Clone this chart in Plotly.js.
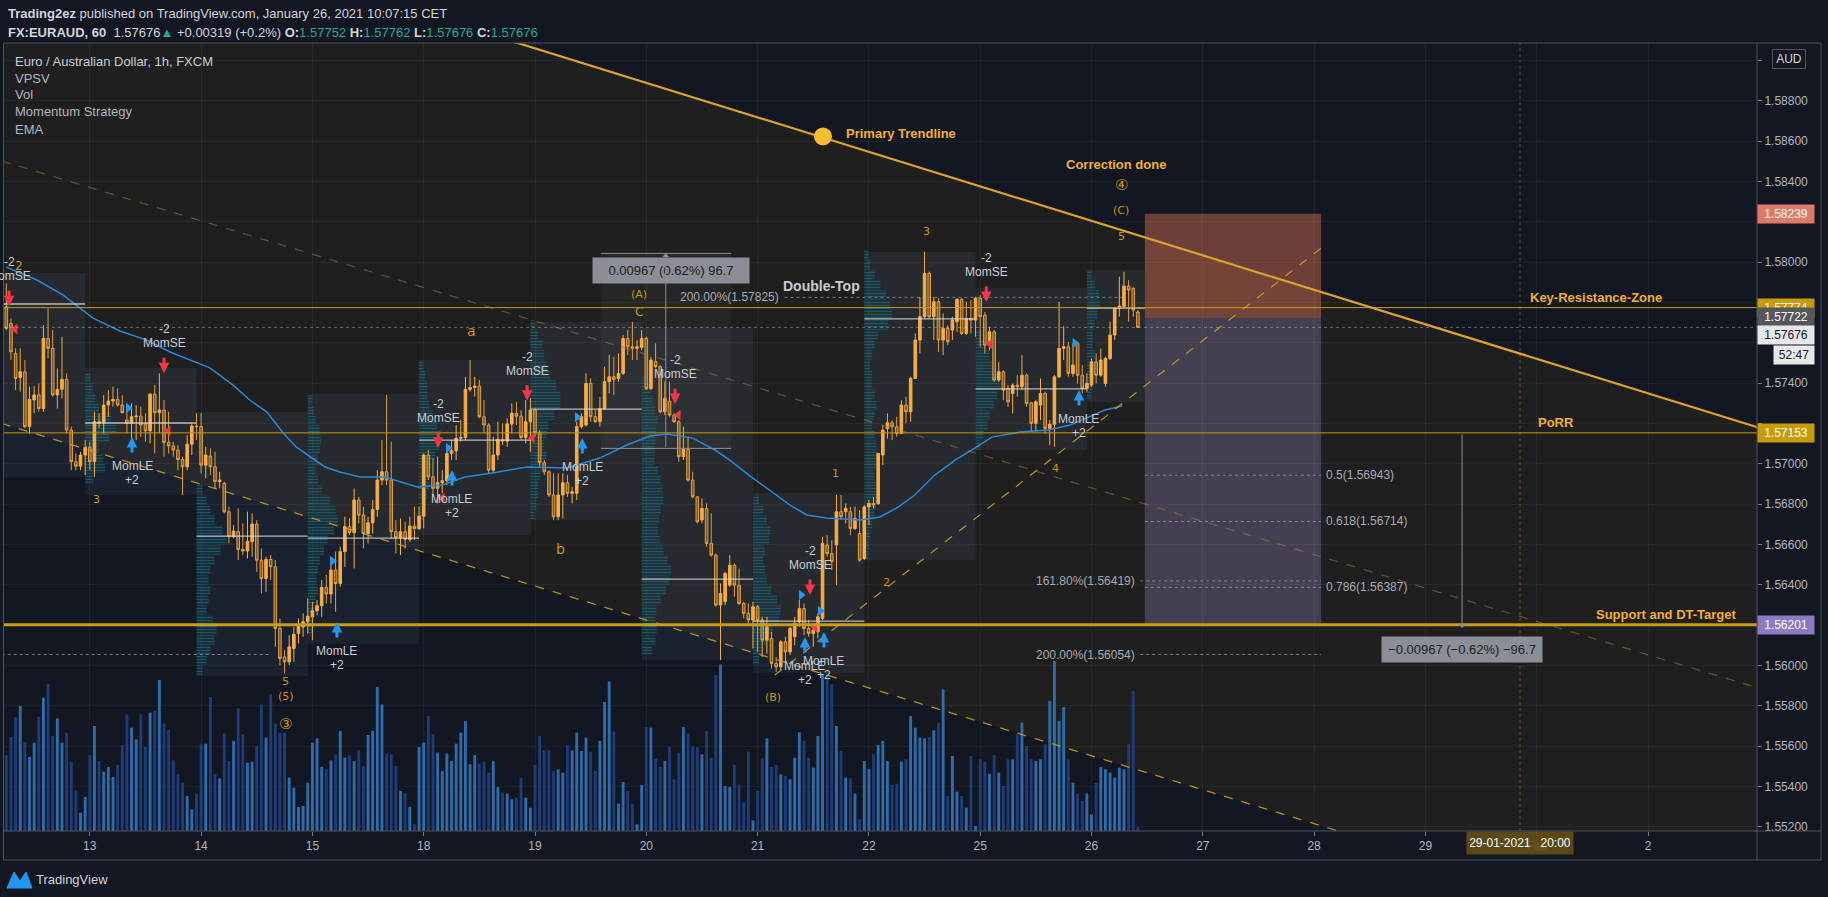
<!DOCTYPE html>
<html><head><meta charset="utf-8">
<script src="https://cdn.plot.ly/plotly-3.0.1.min.js"></script>
<style>html,body{margin:0;padding:0;background:#131722;overflow:hidden}#chart{width:1828px;height:897px}</style>
</head><body><div id="chart"></div>
<script>
// ---------------- DATA (EUR/AUD 1h, FXCM) ----------------
const firstHour = -18; // hours relative to Jan 13 00:00 (trading-day axis)
const openP = [
1.57778,1.57695,1.57547,1.57428,1.57456,1.57184,1.57316,1.57341,1.57274,1.57621,
1.57572,1.57341,1.57369,1.57418,1.57167,1.57010,1.56988,1.57043,1.57081,1.57010,
1.57209,1.57203,1.57291,1.57311,1.57319,1.57291,1.57217,1.57200,1.57233,1.57236,
1.57197,1.57163,1.57345,1.57253,1.57266,1.57106,1.57088,1.57068,1.57021,1.56985,
1.57097,1.57187,1.57184,1.56993,1.57038,1.56985,1.56911,1.56902,1.56762,1.56638,
1.56663,1.56575,1.56567,1.56613,1.56701,1.56522,1.56431,1.56525,1.56489,1.56183,
1.56042,1.56018,1.56084,1.56158,1.56191,1.56216,1.56241,1.56271,1.56296,1.56387,
1.56354,1.56473,1.56406,1.56564,1.56688,1.56658,1.56820,1.56745,1.56654,1.56707,
1.56773,1.56919,1.56960,1.56919,1.56663,1.56633,1.56663,1.56625,1.56691,1.56679,
1.56740,1.57043,1.56935,1.56878,1.56906,1.56916,1.57051,1.57064,1.57126,1.57130,
1.57369,1.57378,1.57385,1.57233,1.57192,1.56968,1.57043,1.57121,1.57112,1.57197,
1.57250,1.57236,1.57130,1.57208,1.57266,1.57154,1.57005,1.56960,1.56845,1.56737,
1.56845,1.56906,1.56853,
1.56853,1.57184,1.57192,1.57398,1.57233,1.57208,1.57274,1.57407,1.57431,1.57423,
1.57448,1.57621,1.57580,1.57572,1.57577,1.57621,1.57373,1.57506,1.57481,1.57258,
1.57311,1.57241,1.57208,1.57035,1.57071,1.56919,1.56836,1.56721,1.56778,1.56605,
1.56547,1.56299,1.56316,1.56398,1.56497,1.56398,1.56307,1.56258,1.56225,1.56291,
1.56225,1.56125,1.56134,1.56010,1.55993,1.56117,1.56067,1.56142,1.56216,1.56282,
1.56183,1.56158,1.56167,1.56233,1.56597,1.56555,1.56597,1.56762,1.56762,1.56762,
1.56679,
1.56654,1.56530,1.56786,1.56803,1.56803,1.57043,1.57175,1.57203,1.57183,1.57150,
1.57291,1.57258,1.57423,1.57613,1.57729,1.57944,1.57729,1.57803,1.57613,1.57671,
1.57663,1.57704,1.57815,1.57646,1.57720,1.57712,1.57820,1.57737,1.57588,1.57654,
1.57415,1.57456,1.57373,1.57348,1.57390,1.57382,1.57439,1.57302,1.57200,1.57291,
1.57348,1.57175,1.57196,1.57431,1.57572,1.57580,1.57448,1.57596,1.57439,1.57373,
1.57390,1.57505,1.57439,1.57398,1.57522,1.57638,1.57770,1.57778,1.57881,1.57869,
1.57752];
const highP = [
1.57894,1.57720,1.57572,1.57572,1.57514,1.57382,1.57385,1.57398,1.57687,1.57770,
1.57663,1.57473,1.57630,1.57448,1.57184,1.57051,1.57059,1.57117,1.57109,1.57258,
1.57250,1.57341,1.57365,1.57382,1.57373,1.57341,1.57299,1.57299,1.57291,1.57283,
1.57250,1.57349,1.57390,1.57448,1.57316,1.57258,1.57109,1.57092,1.57035,1.57142,
1.57200,1.57250,1.57250,1.57084,1.57076,1.57059,1.56960,1.56911,1.56787,1.56696,
1.56779,1.56704,1.56762,1.56754,1.56720,1.56580,1.56539,1.56547,1.56522,1.56233,
1.56076,1.56150,1.56191,1.56233,1.56258,1.56332,1.56315,1.56324,1.56423,1.56448,
1.56522,1.56564,1.56588,1.56737,1.56729,1.56878,1.56836,1.56787,1.56737,1.56820,
1.56968,1.57117,1.57341,1.57109,1.56720,1.56729,1.56712,1.56737,1.56787,1.56787,
1.57051,1.57068,1.57026,1.57035,1.56968,1.57068,1.57117,1.57192,1.57217,1.57431,
1.57514,1.57431,1.57415,1.57316,1.57200,1.57134,1.57208,1.57200,1.57225,1.57299,
1.57307,1.57266,1.57316,1.57324,1.57274,1.57167,1.57018,1.56968,1.56952,1.56952,
1.56952,1.56944,1.56886,
1.57208,1.57250,1.57448,1.57423,1.57266,1.57332,1.57481,1.57539,1.57530,1.57547,
1.57638,1.57663,1.57704,1.57613,1.57663,1.57630,1.57530,1.57597,1.57489,1.57407,
1.57407,1.57250,1.57217,1.57184,1.57134,1.56960,1.56836,1.56828,1.56803,1.56754,
1.56555,1.56406,1.56464,1.56547,1.56506,1.56481,1.56316,1.56307,1.56316,1.56299,
1.56241,1.56241,1.56167,1.56042,1.56125,1.56142,1.56191,1.56241,1.56324,1.56307,
1.56225,1.56208,1.56258,1.56638,1.56646,1.56621,1.56845,1.56845,1.56803,1.56787,
1.56787,
1.56770,1.56795,1.56820,1.56836,1.57051,1.57191,1.57249,1.57216,1.57233,1.57315,
1.57332,1.57431,1.57646,1.57828,1.58051,1.57952,1.57828,1.57820,1.57745,1.57687,
1.57729,1.57820,1.57820,1.57803,1.57811,1.57828,1.57836,1.57753,1.57679,1.57663,
1.57505,1.57464,1.57390,1.57398,1.57439,1.57539,1.57448,1.57307,1.57315,1.57423,
1.57357,1.57216,1.57439,1.57803,1.57682,1.57605,1.57596,1.57605,1.57489,1.57448,
1.57522,1.57547,1.57572,1.57530,1.57704,1.57778,1.57927,1.57952,1.57910,1.57877,
1.57762];
const lowP = [
1.57662,1.57514,1.57365,1.57357,1.57176,1.57150,1.57250,1.57258,1.57258,1.57522,
1.57332,1.57274,1.57324,1.57150,1.56968,1.56968,1.56968,1.56944,1.56968,1.56935,
1.57176,1.57150,1.57233,1.57283,1.57283,1.57250,1.57150,1.57117,1.57117,1.57134,
1.57109,1.57101,1.57051,1.57150,1.57035,1.57051,1.57035,1.56968,1.56845,1.56968,
1.57043,1.57117,1.56952,1.56927,1.56944,1.56878,1.56878,1.56754,1.56605,1.56630,
1.56522,1.56547,1.56530,1.56539,1.56464,1.56357,1.56365,1.56423,1.56092,1.56001,
1.55960,1.56001,1.56018,1.56109,1.56142,1.56158,1.56125,1.56249,1.56241,1.56307,
1.56307,1.56266,1.56390,1.56489,1.56646,1.56481,1.56704,1.56580,1.56605,1.56654,
1.56737,1.56894,1.56894,1.56630,1.56555,1.56547,1.56580,1.56613,1.56621,1.56671,
1.56679,1.56919,1.56836,1.56803,1.56853,1.56894,1.57018,1.57018,1.57109,1.57117,
1.57357,1.57332,1.57225,1.57150,1.56952,1.56952,1.57018,1.57092,1.57084,1.57150,
1.57192,1.57117,1.57101,1.57059,1.57134,1.56985,1.56944,1.56836,1.56720,1.56720,
1.56729,1.56836,1.56803,
1.56820,1.57176,1.57184,1.57208,1.57203,1.57184,1.57266,1.57349,1.57341,1.57407,
1.57440,1.57539,1.57514,1.57514,1.57564,1.57365,1.57365,1.57473,1.57250,1.57241,
1.57233,1.57203,1.57010,1.57018,1.56911,1.56828,1.56704,1.56704,1.56588,1.56539,
1.56291,1.56026,1.56299,1.56390,1.56340,1.56299,1.56233,1.56208,1.56084,1.56067,
1.56042,1.56059,1.55985,1.55968,1.55977,1.56018,1.56051,1.56100,1.56191,1.56150,
1.56142,1.56092,1.56134,1.56225,1.56539,1.56473,1.56398,1.56721,1.56704,1.56646,
1.56671,
1.56514,1.56522,1.56696,1.56778,1.56795,1.56993,1.57125,1.57117,1.57134,1.57150,
1.57200,1.57208,1.57423,1.57547,1.57720,1.57720,1.57613,1.57555,1.57539,1.57588,
1.57613,1.57654,1.57638,1.57638,1.57646,1.57630,1.57580,1.57547,1.57563,1.57406,
1.57406,1.57315,1.57282,1.57249,1.57332,1.57365,1.57282,1.57158,1.57158,1.57216,
1.57150,1.57092,1.57084,1.57423,1.57514,1.57431,1.57431,1.57398,1.57348,1.57357,
1.57382,1.57398,1.57431,1.57382,1.57514,1.57613,1.57729,1.57770,1.57704,1.57729,
1.57676];
const closeP = [
1.57671,1.57555,1.57423,1.57456,1.57184,1.57319,1.57341,1.57274,1.57621,1.57572,
1.57341,1.57369,1.57418,1.57167,1.57010,1.56988,1.57043,1.57081,1.57010,1.57209,
1.57200,1.57291,1.57311,1.57319,1.57291,1.57253,1.57200,1.57233,1.57236,1.57192,
1.57163,1.57345,1.57253,1.57266,1.57106,1.57088,1.57068,1.57021,1.56985,1.57097,
1.57187,1.57184,1.56993,1.57043,1.56985,1.56911,1.56919,1.56762,1.56638,1.56666,
1.56575,1.56567,1.56616,1.56701,1.56522,1.56431,1.56525,1.56489,1.56183,1.56034,
1.56018,1.56092,1.56154,1.56200,1.56216,1.56244,1.56271,1.56296,1.56387,1.56354,
1.56473,1.56406,1.56564,1.56688,1.56658,1.56820,1.56745,1.56654,1.56707,1.56773,
1.56919,1.56960,1.56919,1.56663,1.56633,1.56663,1.56625,1.56691,1.56679,1.56740,
1.57043,1.56935,1.56878,1.56906,1.56916,1.57051,1.57064,1.57126,1.57130,1.57369,
1.57378,1.57385,1.57233,1.57192,1.56968,1.57043,1.57121,1.57112,1.57197,1.57250,
1.57236,1.57130,1.57208,1.57266,1.57154,1.57005,1.56960,1.56845,1.56737,1.56845,
1.56906,1.56853,1.56861,
1.57184,1.57233,1.57398,1.57233,1.57208,1.57274,1.57407,1.57431,1.57418,1.57448,
1.57621,1.57580,1.57572,1.57580,1.57621,1.57373,1.57514,1.57481,1.57258,1.57324,
1.57241,1.57208,1.57035,1.57071,1.56919,1.56836,1.56712,1.56778,1.56605,1.56547,
1.56299,1.56357,1.56456,1.56497,1.56398,1.56307,1.56258,1.56225,1.56291,1.56225,
1.56125,1.56191,1.56010,1.55993,1.56117,1.56067,1.56183,1.56208,1.56282,1.56183,
1.56158,1.56175,1.56241,1.56605,1.56555,1.56514,1.56762,1.56737,1.56778,1.56679,
1.56729,
1.56522,1.56786,1.56803,1.56795,1.57051,1.57167,1.57203,1.57183,1.57150,1.57291,
1.57258,1.57423,1.57613,1.57729,1.57944,1.57729,1.57803,1.57613,1.57671,1.57605,
1.57712,1.57815,1.57646,1.57720,1.57712,1.57820,1.57729,1.57588,1.57654,1.57415,
1.57456,1.57365,1.57307,1.57390,1.57382,1.57439,1.57299,1.57200,1.57307,1.57348,
1.57175,1.57196,1.57431,1.57572,1.57580,1.57448,1.57489,1.57439,1.57373,1.57398,
1.57505,1.57439,1.57514,1.57522,1.57638,1.57770,1.57782,1.57881,1.57861,1.57762,
1.57676];
const volume = [
227,282,342,375,267,222,265,342,400,
442,285,338,265,295,207,122,55,102,228,
315,210,178,192,162,198,258,350,310,275,
350,252,355,360,453,322,303,212,170,145,
105,65,112,260,262,402,172,158,292,210,
270,368,290,205,208,255,380,280,410,322,
295,295,160,130,72,75,145,265,278,192,
185,212,230,300,220,227,210,242,195,288,
300,432,380,232,230,195,120,115,72,20,
252,265,345,290,235,180,232,210,262,295,
330,200,228,202,208,175,210,132,115,112,
95,100,160,100,70,198,285,242,242,180,
185,175,258,242,295,240,280,238,180,270,
387,448,298,82,147,120,82,20,138,312,
310,217,192,210,252,155,235,312,292,252,
252,230,300,220,468,500,135,132,198,140,
86,238,32,120,218,278,192,198,170,165,
155,220,296,270,220,190,285,470,475,440,
315,240,160,158,112,35,210,185,230,258,
270,210,138,142,208,215,345,310,280,278,
282,302,325,425,105,225,118,105,70,225,
15,215,208,172,228,175,135,215,215,290,
325,255,215,210,215,260,390,510,330,372,
215,145,112,90,112,50,144,192,185,175,
160,190,185,262,420,12];

// EMA
const emaHours = [-18,-11.4,-5.8,0.7,6.5,12.3,17.3,21.6,25.9,30.9,34.5,38.2,41.7,44.5,47.5,50.7,53.9,58.3,63.6,70.8,75.9,80.9,86.7,94.3,102.9,110,115.8,120.8,124.5,130,134.8,138,142.4,147.3,151,154.6,158.9,166.1,170.4,174.3,177.9,182.2,186.6,190.9,194.5,200.6,206.6,211.4,215.3,218.9,222.6];
const emaPrices = [1.57975,1.57911,1.57837,1.57722,1.57658,1.57613,1.57554,1.57514,1.57475,1.57390,1.57316,1.57256,1.57152,1.57083,1.57033,1.56984,1.56959,1.56934,1.56934,1.56884,1.56894,1.56934,1.56954,1.56984,1.56979,1.57028,1.57093,1.57137,1.57147,1.57127,1.57068,1.57018,1.56939,1.56855,1.56795,1.56746,1.56731,1.56721,1.56736,1.56785,1.56845,1.56944,1.57018,1.57078,1.57132,1.57157,1.57167,1.57192,1.57232,1.57266,1.57286];

// axis ticks
const dayTickHours = [0,24,48,72,96,120,144,168,192,216,240,264,288,312,336];
const dayTickLabels = ['13','14','15','18','19','20','21','22','25','26','27','28','29','Feb','2'];
const priceTicks = [1.552,1.554,1.556,1.558,1.560,1.562,1.564,1.566,1.568,1.570,1.572,1.574,1.576,1.578,1.580,1.582,1.584,1.586,1.588,1.590];
const hiddenTicks = [1.562,1.572,1.576,1.578,1.582,1.590]; // covered by the coloured price tags

// key levels
const keyResistance = 1.57774, porrLevel = 1.57153, supportLevel = 1.56201;
const stopLevel = 1.58239, entryLevel = 1.57722, lastPrice = 1.57676;

// session volume-profile boxes (day start/end hour, top, bottom, POC)
const sessStart = [-19,-1,23,47,71,95,119,143,167,191,215];
const sessEnd   = [-1,23,47,71,95,119,143,167,191,215,227.5];
const sessTop   = [1.57946,1.57475,1.57256,1.57346,1.57514,1.57703,1.57673,1.56855,1.58050,1.57871,1.57960];
const sessBot   = [1.56934,1.56845,1.55947,1.56106,1.56647,1.56721,1.56027,1.55962,1.56522,1.57068,1.57306];
const sessPoc   = [1.57792,1.57202,1.56641,1.56631,1.57117,1.57271,1.56428,1.56220,1.57718,1.57371,1.57772];

// session volume profiles (first row price, row step, row lengths in hours)
const profStep = 0.000496;
const profTop = [1.57425,1.56870,1.57316,1.57489,1.57688,1.57415,1.56820,1.58035,1.57638,1.57936];
const profRows = [
 [1.1,1.7,2.2,3.0,5.6,6.7,5.2,3.0,3.9,4.3,1.7],
 [1.3,2.2,3.0,3.9,5.6,6.5,5.2,3.9,3.0,2.6,3.0,2.6,2.2,3.5,4.3,3.9,3.0,2.2,1.3],
 [0.9,1.3,1.7,2.6,2.8,2.6,2.2,1.7,2.2,3.0,4.7,6.0,6.5,5.6,4.3,3.5,2.6,2.2,1.9,2.2,1.7,1.5,1.3,0.9],
 [0.9,1.3,1.7,1.7,2.2,3.0,3.9,4.7,4.3,3.5,2.6,2.2,2.2,1.7,1.3,0.9],
 [0.9,1.7,2.6,3.0,3.5,4.3,5.6,6.5,6.5,5.2,3.9,3.5,3.0,3.5,2.6,2.2,1.7,1.7,1.3,0.9],
 [1.3,1.9,2.4,3.0,3.5,3.2,3.0,2.8,2.8,3.5,4.1,4.5,4.7,4.1,3.7,3.5,3.9,4.7,5.6,6.3,6.0,5.2,4.1,3.2,3.0,3.2,3.0,2.2],
 [1.3,2.2,3.0,3.7,3.5,2.6,2.2,2.6,3.0,3.9,5.2,6.0,5.6,4.3,3.0,2.2,1.3],
 [0.9,1.3,2.2,3.5,4.7,5.6,6.0,5.2,3.0,2.2,1.7,1.3,1.7,1.7,2.2,2.6,2.2,1.7,2.2,2.6,3.0,2.6,2.2,2.6,3.0,2.6,2.2,1.7,1.3,1.1,0.9],
 [1.3,2.2,3.0,3.9,4.7,5.2,4.7,3.9,3.0,2.6,1.7,0.9],
 [0.9,1.7,2.6,2.8,2.2,1.7,1.3,1.3,1.7,2.2,1.7,1.3,0.9]
];

// drawings
const polyH = [-19, 360], polyTopP = [1.59879, 1.57178], polyBotP = [1.57200, 1.54542];
const upperChH = [-19, 360], upperChP = [1.58501, 1.55887];
const lowerChH = [-19, 280], lowerChP = [1.57200, 1.55103];
const risingH = [147.7, 265.9], risingP = [1.55952, 1.58076];
const positionH = [227.5, 265.5];
const measureH = [110.2, 138.3, 124.2], measureP = [1.57076, 1.58043];

// strategy signals
const seHours = [-17.4,16,75.1,94.3,126.2,155.3,193.3];
const sePrices = [1.57781,1.57449,1.57078,1.57312,1.57296,1.56349,1.57802];
const leHours = [9.1,53.3,78.1,106.2,154.2,158.3,213.3];
const lePrices = [1.57132,1.56215,1.56969,1.57127,1.56141,1.56166,1.57365];
const exitShortH = [-16.1,16.9,76,95.4,126.9,156.4,194.1];
const exitShortP = [1.57668,1.57162,1.5683,1.57127,1.57241,1.5619,1.57593];
const exitLongH = [8.3,52.3,77.3,105.1,153.4,157.5,212.4];
const exitLongP = [1.57276,1.56518,1.57078,1.57231,1.56349,1.5627,1.57598];

// wave labels
const waveText = ['2','3','a','b','(A)','C','1','2','3','4','5','(C)','④','5','(5)','③','(B)'];
const waveH = [-15.3,1.4,82.2,101.4,118.4,118.4,160.7,171.7,180.5,208.3,222.4,222.4,222.4,42.3,42.3,42.3,147.3];
const waveP = [1.5798,1.56825,1.57658,1.56577,1.57837,1.57752,1.56954,1.56413,1.58149,1.56974,1.58129,1.58258,1.58382,1.55918,1.55848,1.55709,1.55843];
const waveSize = [12,11,14,14,11,12,11,11,11,11,11,11,15,11,11,15,11];

// ---------------- CHART ----------------
const F = 'Liberation Sans, Arial, sans-serif';
const GOLD = '#c99a0c', GOLDTXT = '#f0b02a', WAVE = '#c8950f';
const PX = px => (px - 4) / 1753;
const PY = py => (831 - py) / 788;
const hours = closeP.map((_, i) => firstHour + i);
const volColors = closeP.map((c, i) => c >= openP[i] ? '#2f6cab' : '#1d3c78');

const profY = [], profX = [], profBase = [];
profRows.forEach((rows, s) => rows.forEach((w, r) => {
  profY.push(profTop[s] - r * profStep); profX.push(w); profBase.push(sessStart[s + 1]);
}));

const traces = [
  {type:'bar', x:hours, y:volume, yaxis:'y2', width:0.62, marker:{color:volColors, line:{width:0}}, hoverinfo:'skip'},
  {type:'bar', orientation:'h', x:profX, y:profY, base:profBase, width:profStep * 0.92,
   marker:{color:'rgba(0,0,0,0)', line:{width:0}, pattern:{shape:'-', fgcolor:'rgba(20,105,120,0.75)', bgcolor:'rgba(0,0,0,0)', size:3, solidity:0.5}}, hoverinfo:'skip'},
  {type:'candlestick', x:hours, open:openP, high:highP, low:lowP, close:closeP,
   increasing:{line:{color:'#f7ad45', width:1}, fillcolor:'#f7ad45'},
   decreasing:{line:{color:'#e59f39', width:1}, fillcolor:'rgba(190,130,45,0.55)'},
   hoverinfo:'skip'},
  {type:'scatter', mode:'lines', x:emaHours, y:emaPrices, line:{color:'#2a88d4', width:1.5}, hoverinfo:'skip'},
  {type:'scatter', mode:'markers', x:exitShortH, y:exitShortP, marker:{symbol:'triangle-left', size:9, color:'#f23645'}, hoverinfo:'skip'},
  {type:'scatter', mode:'markers', x:exitLongH, y:exitLongP, marker:{symbol:'triangle-right', size:9, color:'#2196f3'}, hoverinfo:'skip'}
];

const shapes = [];
shapes.push({type:'path', xref:'x', yref:'y', layer:'below', line:{width:0}, fillcolor:'#1f1f20',
  path:`M ${polyH[0]},${polyTopP[0]} L ${polyH[1]},${polyTopP[1]} L ${polyH[1]},${polyBotP[1]} L ${polyH[0]},${polyBotP[0]} Z`});
sessStart.forEach((s, i) => {
  shapes.push({type:'rect', xref:'x', yref:'y', layer:'below', x0:s, x1:sessEnd[i], y0:sessBot[i], y1:sessTop[i], line:{width:0}, fillcolor:'rgba(90,115,150,0.12)'});
  shapes.push({type:'line', xref:'x', yref:'y', layer:'above', x0:s, x1:sessEnd[i], y0:sessPoc[i], y1:sessPoc[i], line:{color:'rgba(220,220,225,0.8)', width:1.3}});
});
shapes.push({type:'rect', xref:'x', yref:'y', layer:'below', x0:positionH[0], x1:positionH[1], y0:entryLevel, y1:stopLevel, line:{width:0}, fillcolor:'rgba(235,120,90,0.42)'});
shapes.push({type:'rect', xref:'x', yref:'y', layer:'below', x0:positionH[0], x1:positionH[1], y0:supportLevel, y1:entryLevel, line:{width:0}, fillcolor:'rgba(150,130,185,0.33)'});
shapes.push({type:'rect', xref:'x', yref:'y', layer:'below', x0:measureH[0], x1:measureH[1], y0:measureP[0], y1:measureP[1], line:{width:0}, fillcolor:'rgba(255,255,255,0.035)'});
[measureP[0], measureP[1]].forEach(p => shapes.push({type:'line', xref:'x', yref:'y', x0:measureH[0], x1:measureH[1], y0:p, y1:p, line:{color:'#8a8d95', width:1}}));
shapes.push({type:'line', xref:'paper', yref:'y', x0:0, x1:1, y0:lastPrice, y1:lastPrice, line:{color:'rgba(200,200,210,0.45)', width:1, dash:'dot'}});
shapes.push({type:'line', xref:'paper', yref:'y', x0:0, x1:1, y0:keyResistance, y1:keyResistance, line:{color:GOLD, width:1}});
shapes.push({type:'line', xref:'paper', yref:'y', x0:0, x1:1, y0:porrLevel, y1:porrLevel, line:{color:GOLD, width:1}});
shapes.push({type:'line', xref:'paper', yref:'y', x0:0, x1:1, y0:supportLevel, y1:supportLevel, line:{color:'#c99d10', width:3}});
const fibLines = [[149.8,222.6,1.57825],[226.5,265.5,1.56419],[226.5,265.5,1.56054],[-19,39.3,1.56054],[227.5,265.5,1.56943],[227.5,265.5,1.56714],[227.5,265.5,1.56387]];
fibLines.forEach(f => shapes.push({type:'line', xref:'x', yref:'y', x0:f[0], x1:f[1], y0:f[2], y1:f[2], line:{color:'rgba(175,178,188,0.6)', width:1, dash:'dot'}}));
shapes.push({type:'line', xref:'x', yref:'y', x0:upperChH[0], x1:upperChH[1], y0:upperChP[0], y1:upperChP[1], line:{color:'rgba(170,135,50,0.5)', width:1.2, dash:'dash'}});
shapes.push({type:'line', xref:'x', yref:'y', x0:lowerChH[0], x1:lowerChH[1], y0:lowerChP[0], y1:lowerChP[1], line:{color:'rgba(205,160,40,0.85)', width:1.3, dash:'dash'}});
shapes.push({type:'line', xref:'x', yref:'y', x0:risingH[0], x1:risingH[1], y0:risingP[0], y1:risingP[1], line:{color:'rgba(210,165,45,0.85)', width:1.2, dash:'dash'}});
shapes.push({type:'line', xref:'x', yref:'y', x0:polyH[0], x1:polyH[1], y0:polyTopP[0], y1:polyTopP[1], line:{color:'#dca327', width:2.2}});
shapes.push({type:'circle', xref:'x', yref:'y', xsizemode:'pixel', ysizemode:'pixel', xanchor:158.1, yanchor:1.58623, x0:-9, x1:9, y0:-9, y1:9, fillcolor:'#f6bd2f', line:{width:0}});
shapes.push({type:'line', xref:'x', yref:'paper', x0:308.4, x1:308.4, y0:0, y1:1, line:{color:'rgba(200,150,30,0.45)', width:1, dash:'dot'}});
shapes.push({type:'rect', xref:'paper', yref:'paper', x0:PX(3.5), x1:PX(1821), y0:PY(860), y1:PY(43), line:{color:'#4e525c', width:1}});
shapes.push({type:'line', xref:'paper', yref:'paper', x0:PX(3.5), x1:PX(1821), y0:0, y1:0, line:{color:'#4e525c', width:1}});
shapes.push({type:'line', xref:'paper', yref:'paper', x0:1, x1:1, y0:PY(860), y1:PY(43), line:{color:'#4e525c', width:1}});
const logo = [[7,888],[14,872],[20,881],[26,872],[32,888]].map(p => `${PX(p[0])},${PY(p[1])}`);
shapes.push({type:'path', xref:'paper', yref:'paper', path:`M ${logo[0]} L ${logo[1]} L ${logo[2]} L ${logo[3]} L ${logo[4]} Z`, fillcolor:'#2196f3', line:{color:'#2196f3', width:1}});

const ann = [];
const txt = (x, y, text, o={}) => Object.assign({x, y, text, showarrow:false, xref:'paper', yref:'paper', xanchor:'left', yanchor:'middle', font:{family:F, size:13, color:'#d1d4dc'}}, o);
ann.push(txt(PX(6), PY(14), '<b>Trading2ez</b> published on TradingView.com, January 26, 2021 10:07:15 CET'));
const tc = s => `<span style="color:#22ab94">${s}</span>`;
ann.push(txt(PX(6), PY(32), `<b>FX:EURAUD, 60</b>  1.57676${tc('▲')} +0.00319 (+0.2%) <b>O:</b>${tc('1.57752')} <b>H:</b>${tc('1.57762')} <b>L:</b>${tc('1.57676')} <b>C:</b>${tc('1.57676')}`));
['Euro / Australian Dollar, 1h, FXCM','VPSV','Vol','Momentum Strategy','EMA'].forEach((s, i) =>
  ann.push(txt(PX(13), PY(61 + i * 17), s, {font:{family:F, size:13, color: i === 0 ? '#c8cbd3' : '#b2b5be'}})));
ann.push(txt(PX(34), PY(879), 'TradingView', {font:{family:F, size:13, color:'#d1d4dc'}}));
const axLab = (y, text, bg, fg, extra={}) => Object.assign({xref:'paper', yref:'y', x:1, y, xanchor:'left', yanchor:'middle', text, showarrow:false, bgcolor:bg, width:52, height:14, borderpad:2, align:'center', font:{family:F, size:12, color:fg}}, extra);
ann.push(axLab(stopLevel, stopLevel.toFixed(5), '#e07a68', '#ffffff'));
ann.push(axLab(keyResistance, keyResistance.toFixed(5), GOLD, '#ffffff'));
ann.push(axLab(entryLevel, entryLevel.toFixed(5), '#55575d', '#ffffff', {yshift:1}));
ann.push(axLab(lastPrice, lastPrice.toFixed(5), '#e8e8ea', '#131722', {yshift:-8}));
ann.push(axLab(lastPrice, '52:47', '#e8e8ea', '#131722', {yshift:-28, xshift:16, width:36}));
ann.push(axLab(porrLevel, porrLevel.toFixed(5), GOLD, '#ffffff'));
ann.push(axLab(supportLevel, supportLevel.toFixed(5), '#8c7bc4', '#ffffff'));
ann.push(txt(PX(1789), PY(59.5), 'AUD', {xanchor:'center', bgcolor:'#131722', bordercolor:'#4e525c', borderwidth:1, borderpad:2, width:28, font:{family:F, size:12, color:'#d1d4dc'}}));
ann.push(txt(PX(1520), PY(843), '29-01-2021   20:00', {xanchor:'center', bgcolor:'rgba(100,80,22,0.9)', width:100, height:16, borderpad:3, font:{family:F, size:12, color:'#ffffff'}}));
const lv = (h, p, s) => ({xref:'x', yref:'y', x:h, y:p, text:'<b>'+s+'</b>', showarrow:false, yanchor:'bottom', yshift:1, font:{family:F, size:13, color:GOLDTXT}});
ann.push(lv(324.8, keyResistance, 'Key-Resistance-Zone'));
ann.push(lv(316.2, porrLevel, 'PoRR'));
ann.push(lv(339.9, supportLevel, 'Support and DT-Target'));
ann.push({xref:'x', yref:'y', x:162.6, y:1.58635, xanchor:'left', text:'<b>Primary Trendline</b>', showarrow:false, font:{family:F, size:13, color:GOLDTXT}});
ann.push({xref:'x', yref:'y', x:221.3, y:1.58486, text:'<b>Correction done</b>', showarrow:false, font:{family:F, size:13, color:GOLDTXT}});
ann.push({xref:'x', yref:'y', x:157.7, y:1.57881, text:'<b>Double-Top</b>', showarrow:false, font:{family:F, size:14, color:'#c9ccd4'}});
const fl = (h, p, s, xa) => ({xref:'x', yref:'y', x:h, y:p, xanchor:xa, text:s, showarrow:false, font:{family:F, size:12, color:'#a6a9b1'}});
ann.push(fl(149.1, 1.57825, '200.00%(1.57825)', 'right'));
ann.push(fl(225.8, 1.56419, '161.80%(1.56419)', 'right'));
ann.push(fl(225.8, 1.56054, '200.00%(1.56054)', 'right'));
ann.push(fl(266.2, 1.56943, '0.5(1.56943)', 'left'));
ann.push(fl(266.2, 1.56714, '0.618(1.56714)', 'left'));
ann.push(fl(266.2, 1.56387, '0.786(1.56387)', 'left'));
ann.push({xref:'x', yref:'y', x:125.3, y:1.57959, text:'0.00967 (0.62%) 96.7', showarrow:false, bgcolor:'#8b8e96', borderpad:5, width:146, font:{family:F, size:13, color:'#1a1d24'}});
ann.push({xref:'x', yref:'y', x:295.9, y:1.56081, text:'−0.00967 (−0.62%) −96.7', showarrow:false, bgcolor:'#8b8e96', borderpad:5, width:150, font:{family:F, size:13, color:'#1a1d24'}});
ann.push({xref:'x', yref:'y', axref:'x', ayref:'y', x:measureH[2], y:measureP[1], ax:measureH[2], ay:measureP[0], text:'', showarrow:true, arrowhead:1, arrowsize:1.2, arrowwidth:1, arrowcolor:'#8a8d95'});
ann.push({xref:'x', yref:'y', axref:'x', ayref:'y', x:295.9, y:1.56186, ax:295.9, ay:porrLevel, text:'', showarrow:true, arrowhead:1, arrowsize:1.2, arrowwidth:1, arrowcolor:'#8a8d95'});
waveText.forEach((s, i) => ann.push({xref:'x', yref:'y', x:waveH[i], y:waveP[i], text:s, showarrow:false, font:{family:'DejaVu Sans, '+F, size:waveSize[i], color:WAVE}}));
const sigFont = {family:F, size:12, color:'#c9ccd4'};
seHours.forEach((h, i) => {
  ann.push({xref:'x', yref:'y', x:h, y:sePrices[i], ax:0, ay:-17, text:'', showarrow:true, arrowhead:2, arrowsize:0.7, arrowwidth:3, arrowcolor:'#f23645'});
  ann.push({xref:'x', yref:'y', x:h, y:sePrices[i], yshift:30, text:'MomSE', showarrow:false, font:sigFont});
  ann.push({xref:'x', yref:'y', x:h, y:sePrices[i], yshift:44, text:'-2', showarrow:false, font:sigFont});
});
leHours.forEach((h, i) => {
  ann.push({xref:'x', yref:'y', x:h, y:lePrices[i], ax:0, ay:17, text:'', showarrow:true, arrowhead:2, arrowsize:0.7, arrowwidth:3, arrowcolor:'#2196f3'});
  ann.push({xref:'x', yref:'y', x:h, y:lePrices[i], yshift:-29, text:'MomLE', showarrow:false, font:sigFont});
  ann.push({xref:'x', yref:'y', x:h, y:lePrices[i], yshift:-43, text:'+2', showarrow:false, font:sigFont});
});

const layout = {
  width:1828, height:897,
  margin:{l:4, r:71, t:43, b:66, pad:0},
  paper_bgcolor:'#131722', plot_bgcolor:'#131722',
  showlegend:false, hovermode:false, dragmode:false, boxgap:0.2, barmode:'overlay',
  font:{family:F, color:'#b2b5be'},
  xaxis:{range:[-18.5, 359.5], tickvals:dayTickHours, ticktext:dayTickLabels, showgrid:true, gridcolor:'rgba(255,255,255,0.045)',
    zeroline:false, showline:false, ticks:'outside', ticklen:4, tickcolor:'#787b86', tickfont:{family:F, size:12, color:'#b2b5be'},
    rangeslider:{visible:false}, fixedrange:true},
  yaxis:{range:[1.55179, 1.59086], side:'right', tickvals:priceTicks,
    ticktext:priceTicks.map(v => hiddenTicks.some(h => Math.abs(h - v) < 1e-9) ? '' : v.toFixed(5)),
    showgrid:true, gridcolor:'rgba(255,255,255,0.045)',
    zeroline:false, showline:false, ticks:'outside', ticklen:4, tickcolor:'#787b86', tickfont:{family:F, size:12, color:'#b2b5be'}, fixedrange:true},
  yaxis2:{overlaying:'y', range:[0, 2364], visible:false, fixedrange:true},
  shapes:shapes, annotations:ann
};
Plotly.newPlot('chart', traces, layout, {displayModeBar:false, staticPlot:true});
</script></body></html>
